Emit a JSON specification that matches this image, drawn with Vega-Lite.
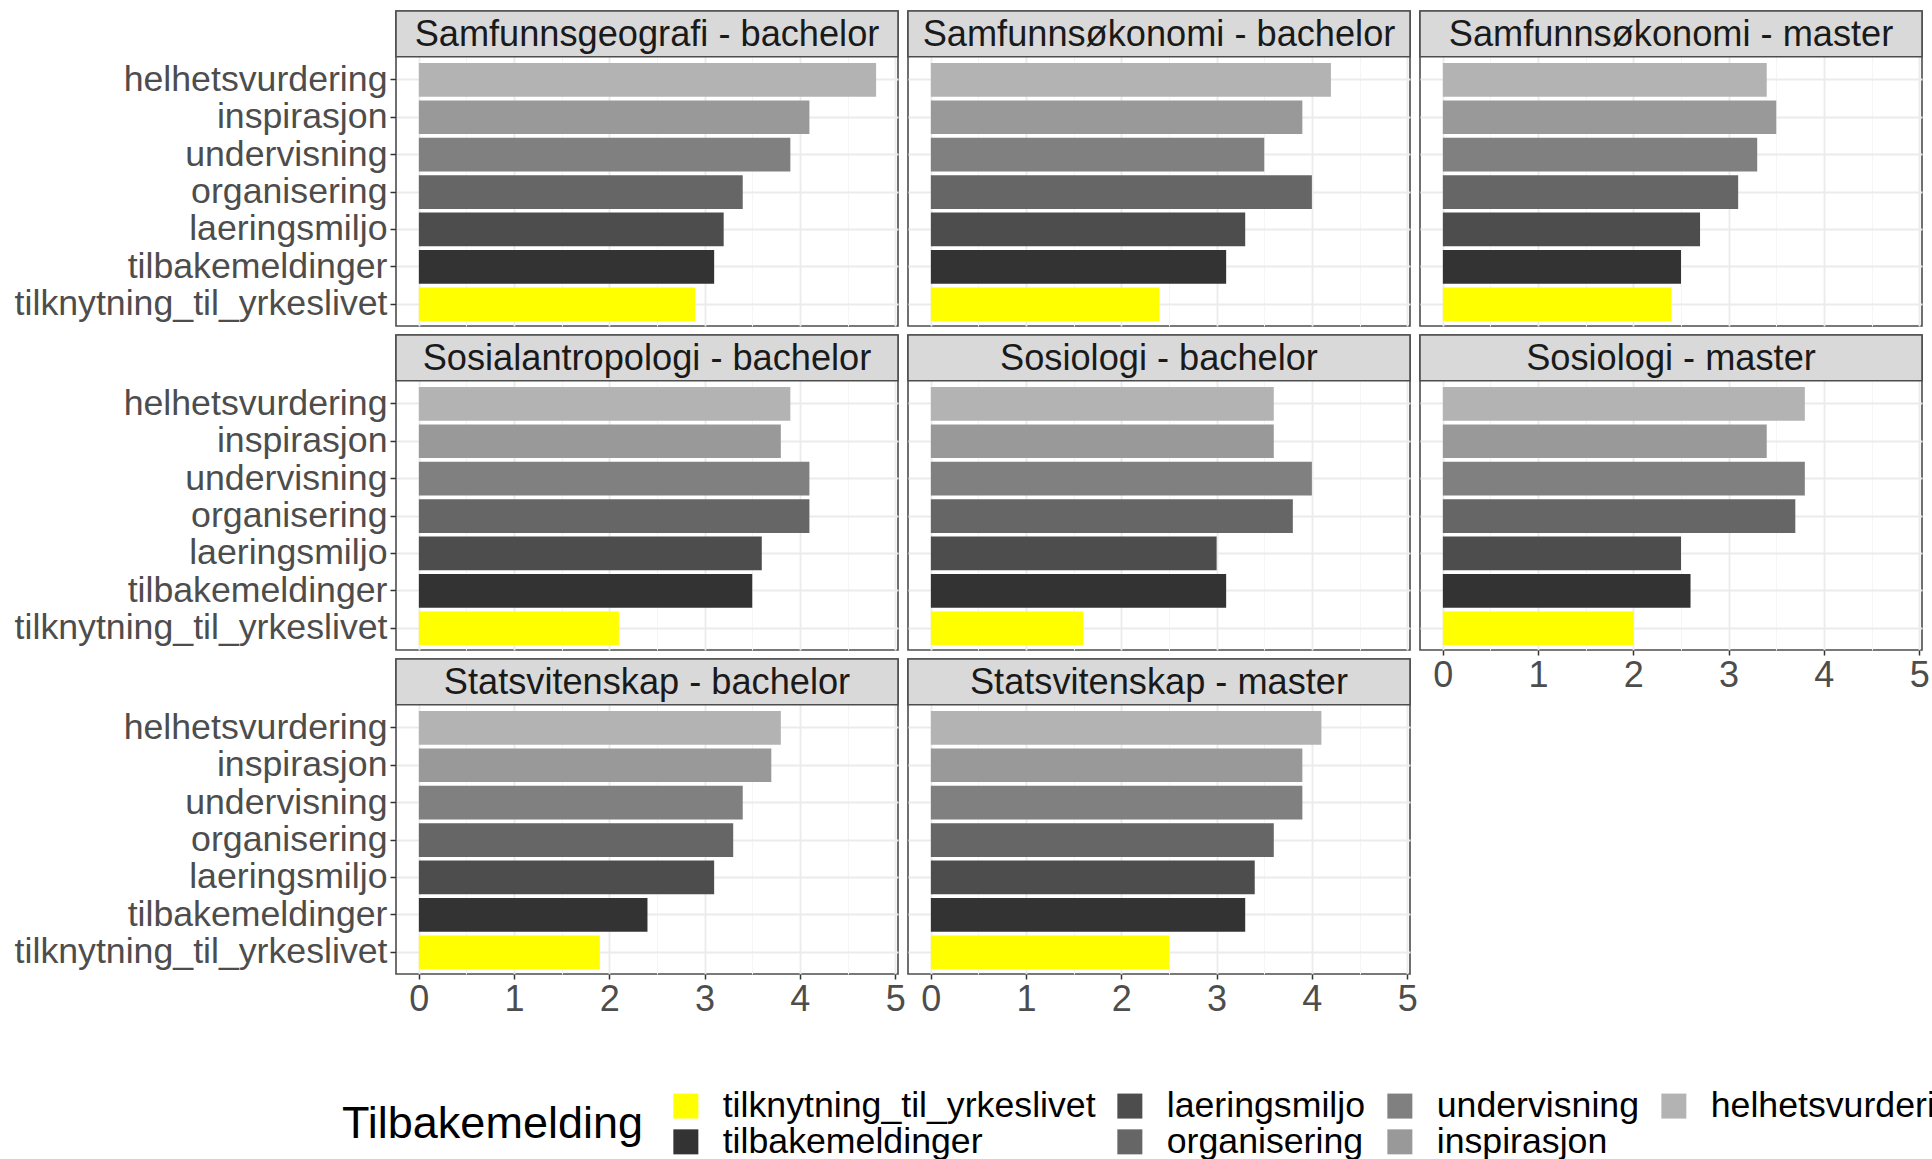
{
  "$schema": "https://vega.github.io/schema/vega-lite/v6.json",
  "background": "white",
  "padding": {"left": 13, "top": 9, "right": 0, "bottom": 0},
  "config": {
    "font": "Liberation Sans",
    "view": {"stroke": "#4D4D4D", "strokeWidth": 1.6},
    "axisX": {"labelFontSize": 36, "labelColor": "#4D4D4D", "labelFlush": false, "labelOverlap": false, "labelPadding": 3, "tickSize": 5, "tickWidth": 1.5, "domain": false, "grid": true},
    "axisY": {"labelFontSize": 35.7, "labelColor": "#4D4D4D", "labelPadding": 3, "labelLimit": 0, "tickSize": 6, "tickWidth": 1.5, "tickColor": "#333333", "domain": false, "grid": true, "gridColor": "#EBEBEB", "gridWidth": 1.8, "bandPosition": 0.5},
    "legend": {"orient": "none", "legendX": -54, "legendY": 1077, "direction": "horizontal", "columns": 4, "titleOrient": "left", "titleFontSize": 45, "titleFontWeight": "normal", "titleColor": "#000000", "titleLimit": 1000, "titleAnchor": "middle", "titleBaseline": "middle", "titlePadding": 25, "labelFontSize": 35.7, "labelColor": "#000000", "labelLimit": 0, "labelOffset": 19, "symbolType": "square", "symbolSize": 625, "symbolStrokeWidth": 0, "symbolOpacity": 1, "columnPadding": 16, "rowPadding": -2},
    "text": {"fontSize": 36.2, "color": "#1A1A1A", "baseline": "alphabetic", "align": "center"},
    "rect": {"fill": "#D9D9D9", "stroke": "#4D4D4D", "strokeWidth": 1.6}
  },
  "datasets": {
    "d": [
      {"program": "Samfunnsgeografi - bachelor", "tilbakemelding": "helhetsvurdering", "verdi": 4.8},
      {"program": "Samfunnsgeografi - bachelor", "tilbakemelding": "inspirasjon", "verdi": 4.1},
      {"program": "Samfunnsgeografi - bachelor", "tilbakemelding": "undervisning", "verdi": 3.9},
      {"program": "Samfunnsgeografi - bachelor", "tilbakemelding": "organisering", "verdi": 3.4},
      {"program": "Samfunnsgeografi - bachelor", "tilbakemelding": "laeringsmiljo", "verdi": 3.2},
      {"program": "Samfunnsgeografi - bachelor", "tilbakemelding": "tilbakemeldinger", "verdi": 3.1},
      {"program": "Samfunnsgeografi - bachelor", "tilbakemelding": "tilknytning_til_yrkeslivet", "verdi": 2.9},
      {"program": "Samfunnsøkonomi - bachelor", "tilbakemelding": "helhetsvurdering", "verdi": 4.2},
      {"program": "Samfunnsøkonomi - bachelor", "tilbakemelding": "inspirasjon", "verdi": 3.9},
      {"program": "Samfunnsøkonomi - bachelor", "tilbakemelding": "undervisning", "verdi": 3.5},
      {"program": "Samfunnsøkonomi - bachelor", "tilbakemelding": "organisering", "verdi": 4.0},
      {"program": "Samfunnsøkonomi - bachelor", "tilbakemelding": "laeringsmiljo", "verdi": 3.3},
      {"program": "Samfunnsøkonomi - bachelor", "tilbakemelding": "tilbakemeldinger", "verdi": 3.1},
      {"program": "Samfunnsøkonomi - bachelor", "tilbakemelding": "tilknytning_til_yrkeslivet", "verdi": 2.4},
      {"program": "Samfunnsøkonomi - master", "tilbakemelding": "helhetsvurdering", "verdi": 3.4},
      {"program": "Samfunnsøkonomi - master", "tilbakemelding": "inspirasjon", "verdi": 3.5},
      {"program": "Samfunnsøkonomi - master", "tilbakemelding": "undervisning", "verdi": 3.3},
      {"program": "Samfunnsøkonomi - master", "tilbakemelding": "organisering", "verdi": 3.1},
      {"program": "Samfunnsøkonomi - master", "tilbakemelding": "laeringsmiljo", "verdi": 2.7},
      {"program": "Samfunnsøkonomi - master", "tilbakemelding": "tilbakemeldinger", "verdi": 2.5},
      {"program": "Samfunnsøkonomi - master", "tilbakemelding": "tilknytning_til_yrkeslivet", "verdi": 2.4},
      {"program": "Sosialantropologi - bachelor", "tilbakemelding": "helhetsvurdering", "verdi": 3.9},
      {"program": "Sosialantropologi - bachelor", "tilbakemelding": "inspirasjon", "verdi": 3.8},
      {"program": "Sosialantropologi - bachelor", "tilbakemelding": "undervisning", "verdi": 4.1},
      {"program": "Sosialantropologi - bachelor", "tilbakemelding": "organisering", "verdi": 4.1},
      {"program": "Sosialantropologi - bachelor", "tilbakemelding": "laeringsmiljo", "verdi": 3.6},
      {"program": "Sosialantropologi - bachelor", "tilbakemelding": "tilbakemeldinger", "verdi": 3.5},
      {"program": "Sosialantropologi - bachelor", "tilbakemelding": "tilknytning_til_yrkeslivet", "verdi": 2.1},
      {"program": "Sosiologi - bachelor", "tilbakemelding": "helhetsvurdering", "verdi": 3.6},
      {"program": "Sosiologi - bachelor", "tilbakemelding": "inspirasjon", "verdi": 3.6},
      {"program": "Sosiologi - bachelor", "tilbakemelding": "undervisning", "verdi": 4.0},
      {"program": "Sosiologi - bachelor", "tilbakemelding": "organisering", "verdi": 3.8},
      {"program": "Sosiologi - bachelor", "tilbakemelding": "laeringsmiljo", "verdi": 3.0},
      {"program": "Sosiologi - bachelor", "tilbakemelding": "tilbakemeldinger", "verdi": 3.1},
      {"program": "Sosiologi - bachelor", "tilbakemelding": "tilknytning_til_yrkeslivet", "verdi": 1.6},
      {"program": "Sosiologi - master", "tilbakemelding": "helhetsvurdering", "verdi": 3.8},
      {"program": "Sosiologi - master", "tilbakemelding": "inspirasjon", "verdi": 3.4},
      {"program": "Sosiologi - master", "tilbakemelding": "undervisning", "verdi": 3.8},
      {"program": "Sosiologi - master", "tilbakemelding": "organisering", "verdi": 3.7},
      {"program": "Sosiologi - master", "tilbakemelding": "laeringsmiljo", "verdi": 2.5},
      {"program": "Sosiologi - master", "tilbakemelding": "tilbakemeldinger", "verdi": 2.6},
      {"program": "Sosiologi - master", "tilbakemelding": "tilknytning_til_yrkeslivet", "verdi": 2.0},
      {"program": "Statsvitenskap - bachelor", "tilbakemelding": "helhetsvurdering", "verdi": 3.8},
      {"program": "Statsvitenskap - bachelor", "tilbakemelding": "inspirasjon", "verdi": 3.7},
      {"program": "Statsvitenskap - bachelor", "tilbakemelding": "undervisning", "verdi": 3.4},
      {"program": "Statsvitenskap - bachelor", "tilbakemelding": "organisering", "verdi": 3.3},
      {"program": "Statsvitenskap - bachelor", "tilbakemelding": "laeringsmiljo", "verdi": 3.1},
      {"program": "Statsvitenskap - bachelor", "tilbakemelding": "tilbakemeldinger", "verdi": 2.4},
      {"program": "Statsvitenskap - bachelor", "tilbakemelding": "tilknytning_til_yrkeslivet", "verdi": 1.9},
      {"program": "Statsvitenskap - master", "tilbakemelding": "helhetsvurdering", "verdi": 4.1},
      {"program": "Statsvitenskap - master", "tilbakemelding": "inspirasjon", "verdi": 3.9},
      {"program": "Statsvitenskap - master", "tilbakemelding": "undervisning", "verdi": 3.9},
      {"program": "Statsvitenskap - master", "tilbakemelding": "organisering", "verdi": 3.6},
      {"program": "Statsvitenskap - master", "tilbakemelding": "laeringsmiljo", "verdi": 3.4},
      {"program": "Statsvitenskap - master", "tilbakemelding": "tilbakemeldinger", "verdi": 3.3},
      {"program": "Statsvitenskap - master", "tilbakemelding": "tilknytning_til_yrkeslivet", "verdi": 2.5}
    ]
  },
  "bounds": "flush",
  "columns": 3,
  "spacing": {"row": 9, "column": 10},
  "concat": [
    {
      "data": {"name": "d"}, "transform": [{"filter": {"field": "program", "equal": "Samfunnsgeografi - bachelor"}}],
      "width": 502, "height": 315, "resolve": {"scale": {"y": "independent"}},
      "layer": [
        {"mark": {"type": "bar"}, "encoding": {
          "x": {"field": "verdi", "type": "quantitative", "scale": {"domain": [-0.24, 5.03], "nice": false, "zero": false}, "axis": {"title": null, "values": [0, 0.5, 1, 1.5, 2, 2.5, 3, 3.5, 4, 4.5, 5], "labels": false, "ticks": false, "gridColor": {"condition": {"test": "datum.value % 1 === 0", "value": "#EBEBEB"}, "value": "#F5F5F5"}, "gridWidth": {"condition": {"test": "datum.value % 1 === 0", "value": 1.8}, "value": 1}}},
          "y": {"field": "tilbakemelding", "type": "nominal", "sort": ["helhetsvurdering", "inspirasjon", "undervisning", "organisering", "laeringsmiljo", "tilbakemeldinger", "tilknytning_til_yrkeslivet"], "scale": {"paddingInner": 0.1, "paddingOuter": 0.76, "align": 0.914}, "axis": {"title": null}},
          "color": {"field": "tilbakemelding", "type": "nominal", "title": "Tilbakemelding", "scale": {"domain": ["tilknytning_til_yrkeslivet", "laeringsmiljo", "undervisning", "helhetsvurdering", "tilbakemeldinger", "organisering", "inspirasjon"], "range": ["#FFFF00", "#4D4D4D", "#808080", "#B3B3B3", "#333333", "#666666", "#999999"]}}
        }},
        {"transform": [{"aggregate": [{"op": "count", "as": "n"}], "groupby": ["program"]}], "mark": {"type": "rect"}, "encoding": {"x": {"datum": -0.24, "type": "quantitative"}, "x2": {"datum": 5.03}, "y": {"datum": 1, "type": "quantitative", "scale": {"domain": [0, 1], "nice": false, "zero": false}, "axis": null}, "y2": {"datum": 0.855}}},
        {"transform": [{"aggregate": [{"op": "count", "as": "n"}], "groupby": ["program"]}], "mark": {"type": "text"}, "encoding": {"x": {"datum": 2.395, "type": "quantitative"}, "y": {"datum": 0.889, "type": "quantitative", "scale": {"domain": [0, 1], "nice": false, "zero": false}, "axis": null}, "text": {"field": "program"}}}
      ]
    },
    {
      "data": {"name": "d"}, "transform": [{"filter": {"field": "program", "equal": "Samfunnsøkonomi - bachelor"}}],
      "width": 502, "height": 315, "resolve": {"scale": {"y": "independent"}},
      "layer": [
        {"mark": {"type": "bar"}, "encoding": {
          "x": {"field": "verdi", "type": "quantitative", "scale": {"domain": [-0.24, 5.03], "nice": false, "zero": false}, "axis": {"title": null, "values": [0, 0.5, 1, 1.5, 2, 2.5, 3, 3.5, 4, 4.5, 5], "labels": false, "ticks": false, "gridColor": {"condition": {"test": "datum.value % 1 === 0", "value": "#EBEBEB"}, "value": "#F5F5F5"}, "gridWidth": {"condition": {"test": "datum.value % 1 === 0", "value": 1.8}, "value": 1}}},
          "y": {"field": "tilbakemelding", "type": "nominal", "sort": ["helhetsvurdering", "inspirasjon", "undervisning", "organisering", "laeringsmiljo", "tilbakemeldinger", "tilknytning_til_yrkeslivet"], "scale": {"paddingInner": 0.1, "paddingOuter": 0.76, "align": 0.914}, "axis": {"title": null, "labels": false, "ticks": false}},
          "color": {"field": "tilbakemelding", "type": "nominal", "title": "Tilbakemelding", "scale": {"domain": ["tilknytning_til_yrkeslivet", "laeringsmiljo", "undervisning", "helhetsvurdering", "tilbakemeldinger", "organisering", "inspirasjon"], "range": ["#FFFF00", "#4D4D4D", "#808080", "#B3B3B3", "#333333", "#666666", "#999999"]}}
        }},
        {"transform": [{"aggregate": [{"op": "count", "as": "n"}], "groupby": ["program"]}], "mark": {"type": "rect"}, "encoding": {"x": {"datum": -0.24, "type": "quantitative"}, "x2": {"datum": 5.03}, "y": {"datum": 1, "type": "quantitative", "scale": {"domain": [0, 1], "nice": false, "zero": false}, "axis": null}, "y2": {"datum": 0.855}}},
        {"transform": [{"aggregate": [{"op": "count", "as": "n"}], "groupby": ["program"]}], "mark": {"type": "text"}, "encoding": {"x": {"datum": 2.395, "type": "quantitative"}, "y": {"datum": 0.889, "type": "quantitative", "scale": {"domain": [0, 1], "nice": false, "zero": false}, "axis": null}, "text": {"field": "program"}}}
      ]
    },
    {
      "data": {"name": "d"}, "transform": [{"filter": {"field": "program", "equal": "Samfunnsøkonomi - master"}}],
      "width": 502, "height": 315, "resolve": {"scale": {"y": "independent"}},
      "layer": [
        {"mark": {"type": "bar"}, "encoding": {
          "x": {"field": "verdi", "type": "quantitative", "scale": {"domain": [-0.24, 5.03], "nice": false, "zero": false}, "axis": {"title": null, "values": [0, 0.5, 1, 1.5, 2, 2.5, 3, 3.5, 4, 4.5, 5], "labels": false, "ticks": false, "gridColor": {"condition": {"test": "datum.value % 1 === 0", "value": "#EBEBEB"}, "value": "#F5F5F5"}, "gridWidth": {"condition": {"test": "datum.value % 1 === 0", "value": 1.8}, "value": 1}}},
          "y": {"field": "tilbakemelding", "type": "nominal", "sort": ["helhetsvurdering", "inspirasjon", "undervisning", "organisering", "laeringsmiljo", "tilbakemeldinger", "tilknytning_til_yrkeslivet"], "scale": {"paddingInner": 0.1, "paddingOuter": 0.76, "align": 0.914}, "axis": {"title": null, "labels": false, "ticks": false}},
          "color": {"field": "tilbakemelding", "type": "nominal", "title": "Tilbakemelding", "scale": {"domain": ["tilknytning_til_yrkeslivet", "laeringsmiljo", "undervisning", "helhetsvurdering", "tilbakemeldinger", "organisering", "inspirasjon"], "range": ["#FFFF00", "#4D4D4D", "#808080", "#B3B3B3", "#333333", "#666666", "#999999"]}}
        }},
        {"transform": [{"aggregate": [{"op": "count", "as": "n"}], "groupby": ["program"]}], "mark": {"type": "rect"}, "encoding": {"x": {"datum": -0.24, "type": "quantitative"}, "x2": {"datum": 5.03}, "y": {"datum": 1, "type": "quantitative", "scale": {"domain": [0, 1], "nice": false, "zero": false}, "axis": null}, "y2": {"datum": 0.855}}},
        {"transform": [{"aggregate": [{"op": "count", "as": "n"}], "groupby": ["program"]}], "mark": {"type": "text"}, "encoding": {"x": {"datum": 2.395, "type": "quantitative"}, "y": {"datum": 0.889, "type": "quantitative", "scale": {"domain": [0, 1], "nice": false, "zero": false}, "axis": null}, "text": {"field": "program"}}}
      ]
    },
    {
      "data": {"name": "d"}, "transform": [{"filter": {"field": "program", "equal": "Sosialantropologi - bachelor"}}],
      "width": 502, "height": 315, "resolve": {"scale": {"y": "independent"}},
      "layer": [
        {"mark": {"type": "bar"}, "encoding": {
          "x": {"field": "verdi", "type": "quantitative", "scale": {"domain": [-0.24, 5.03], "nice": false, "zero": false}, "axis": {"title": null, "values": [0, 0.5, 1, 1.5, 2, 2.5, 3, 3.5, 4, 4.5, 5], "labels": false, "ticks": false, "gridColor": {"condition": {"test": "datum.value % 1 === 0", "value": "#EBEBEB"}, "value": "#F5F5F5"}, "gridWidth": {"condition": {"test": "datum.value % 1 === 0", "value": 1.8}, "value": 1}}},
          "y": {"field": "tilbakemelding", "type": "nominal", "sort": ["helhetsvurdering", "inspirasjon", "undervisning", "organisering", "laeringsmiljo", "tilbakemeldinger", "tilknytning_til_yrkeslivet"], "scale": {"paddingInner": 0.1, "paddingOuter": 0.76, "align": 0.914}, "axis": {"title": null}},
          "color": {"field": "tilbakemelding", "type": "nominal", "title": "Tilbakemelding", "scale": {"domain": ["tilknytning_til_yrkeslivet", "laeringsmiljo", "undervisning", "helhetsvurdering", "tilbakemeldinger", "organisering", "inspirasjon"], "range": ["#FFFF00", "#4D4D4D", "#808080", "#B3B3B3", "#333333", "#666666", "#999999"]}}
        }},
        {"transform": [{"aggregate": [{"op": "count", "as": "n"}], "groupby": ["program"]}], "mark": {"type": "rect"}, "encoding": {"x": {"datum": -0.24, "type": "quantitative"}, "x2": {"datum": 5.03}, "y": {"datum": 1, "type": "quantitative", "scale": {"domain": [0, 1], "nice": false, "zero": false}, "axis": null}, "y2": {"datum": 0.855}}},
        {"transform": [{"aggregate": [{"op": "count", "as": "n"}], "groupby": ["program"]}], "mark": {"type": "text"}, "encoding": {"x": {"datum": 2.395, "type": "quantitative"}, "y": {"datum": 0.889, "type": "quantitative", "scale": {"domain": [0, 1], "nice": false, "zero": false}, "axis": null}, "text": {"field": "program"}}}
      ]
    },
    {
      "data": {"name": "d"}, "transform": [{"filter": {"field": "program", "equal": "Sosiologi - bachelor"}}],
      "width": 502, "height": 315, "resolve": {"scale": {"y": "independent"}},
      "layer": [
        {"mark": {"type": "bar"}, "encoding": {
          "x": {"field": "verdi", "type": "quantitative", "scale": {"domain": [-0.24, 5.03], "nice": false, "zero": false}, "axis": {"title": null, "values": [0, 0.5, 1, 1.5, 2, 2.5, 3, 3.5, 4, 4.5, 5], "labels": false, "ticks": false, "gridColor": {"condition": {"test": "datum.value % 1 === 0", "value": "#EBEBEB"}, "value": "#F5F5F5"}, "gridWidth": {"condition": {"test": "datum.value % 1 === 0", "value": 1.8}, "value": 1}}},
          "y": {"field": "tilbakemelding", "type": "nominal", "sort": ["helhetsvurdering", "inspirasjon", "undervisning", "organisering", "laeringsmiljo", "tilbakemeldinger", "tilknytning_til_yrkeslivet"], "scale": {"paddingInner": 0.1, "paddingOuter": 0.76, "align": 0.914}, "axis": {"title": null, "labels": false, "ticks": false}},
          "color": {"field": "tilbakemelding", "type": "nominal", "title": "Tilbakemelding", "scale": {"domain": ["tilknytning_til_yrkeslivet", "laeringsmiljo", "undervisning", "helhetsvurdering", "tilbakemeldinger", "organisering", "inspirasjon"], "range": ["#FFFF00", "#4D4D4D", "#808080", "#B3B3B3", "#333333", "#666666", "#999999"]}}
        }},
        {"transform": [{"aggregate": [{"op": "count", "as": "n"}], "groupby": ["program"]}], "mark": {"type": "rect"}, "encoding": {"x": {"datum": -0.24, "type": "quantitative"}, "x2": {"datum": 5.03}, "y": {"datum": 1, "type": "quantitative", "scale": {"domain": [0, 1], "nice": false, "zero": false}, "axis": null}, "y2": {"datum": 0.855}}},
        {"transform": [{"aggregate": [{"op": "count", "as": "n"}], "groupby": ["program"]}], "mark": {"type": "text"}, "encoding": {"x": {"datum": 2.395, "type": "quantitative"}, "y": {"datum": 0.889, "type": "quantitative", "scale": {"domain": [0, 1], "nice": false, "zero": false}, "axis": null}, "text": {"field": "program"}}}
      ]
    },
    {
      "data": {"name": "d"}, "transform": [{"filter": {"field": "program", "equal": "Sosiologi - master"}}],
      "width": 502, "height": 315, "resolve": {"scale": {"y": "independent"}},
      "layer": [
        {"mark": {"type": "bar"}, "encoding": {
          "x": {"field": "verdi", "type": "quantitative", "scale": {"domain": [-0.24, 5.03], "nice": false, "zero": false}, "axis": {"title": null, "values": [0, 0.5, 1, 1.5, 2, 2.5, 3, 3.5, 4, 4.5, 5], "labelExpr": "datum.value % 1 === 0 ? '' + datum.value : ''", "tickColor": {"condition": {"test": "datum.value % 1 === 0", "value": "#333333"}, "value": "transparent"}, "gridColor": {"condition": {"test": "datum.value % 1 === 0", "value": "#EBEBEB"}, "value": "#F5F5F5"}, "gridWidth": {"condition": {"test": "datum.value % 1 === 0", "value": 1.8}, "value": 1}}},
          "y": {"field": "tilbakemelding", "type": "nominal", "sort": ["helhetsvurdering", "inspirasjon", "undervisning", "organisering", "laeringsmiljo", "tilbakemeldinger", "tilknytning_til_yrkeslivet"], "scale": {"paddingInner": 0.1, "paddingOuter": 0.76, "align": 0.914}, "axis": {"title": null, "labels": false, "ticks": false}},
          "color": {"field": "tilbakemelding", "type": "nominal", "title": "Tilbakemelding", "scale": {"domain": ["tilknytning_til_yrkeslivet", "laeringsmiljo", "undervisning", "helhetsvurdering", "tilbakemeldinger", "organisering", "inspirasjon"], "range": ["#FFFF00", "#4D4D4D", "#808080", "#B3B3B3", "#333333", "#666666", "#999999"]}}
        }},
        {"transform": [{"aggregate": [{"op": "count", "as": "n"}], "groupby": ["program"]}], "mark": {"type": "rect"}, "encoding": {"x": {"datum": -0.24, "type": "quantitative"}, "x2": {"datum": 5.03}, "y": {"datum": 1, "type": "quantitative", "scale": {"domain": [0, 1], "nice": false, "zero": false}, "axis": null}, "y2": {"datum": 0.855}}},
        {"transform": [{"aggregate": [{"op": "count", "as": "n"}], "groupby": ["program"]}], "mark": {"type": "text"}, "encoding": {"x": {"datum": 2.395, "type": "quantitative"}, "y": {"datum": 0.889, "type": "quantitative", "scale": {"domain": [0, 1], "nice": false, "zero": false}, "axis": null}, "text": {"field": "program"}}}
      ]
    },
    {
      "data": {"name": "d"}, "transform": [{"filter": {"field": "program", "equal": "Statsvitenskap - bachelor"}}],
      "width": 502, "height": 315, "resolve": {"scale": {"y": "independent"}},
      "layer": [
        {"mark": {"type": "bar"}, "encoding": {
          "x": {"field": "verdi", "type": "quantitative", "scale": {"domain": [-0.24, 5.03], "nice": false, "zero": false}, "axis": {"title": null, "values": [0, 0.5, 1, 1.5, 2, 2.5, 3, 3.5, 4, 4.5, 5], "labelExpr": "datum.value % 1 === 0 ? '' + datum.value : ''", "tickColor": {"condition": {"test": "datum.value % 1 === 0", "value": "#333333"}, "value": "transparent"}, "gridColor": {"condition": {"test": "datum.value % 1 === 0", "value": "#EBEBEB"}, "value": "#F5F5F5"}, "gridWidth": {"condition": {"test": "datum.value % 1 === 0", "value": 1.8}, "value": 1}}},
          "y": {"field": "tilbakemelding", "type": "nominal", "sort": ["helhetsvurdering", "inspirasjon", "undervisning", "organisering", "laeringsmiljo", "tilbakemeldinger", "tilknytning_til_yrkeslivet"], "scale": {"paddingInner": 0.1, "paddingOuter": 0.76, "align": 0.914}, "axis": {"title": null}},
          "color": {"field": "tilbakemelding", "type": "nominal", "title": "Tilbakemelding", "scale": {"domain": ["tilknytning_til_yrkeslivet", "laeringsmiljo", "undervisning", "helhetsvurdering", "tilbakemeldinger", "organisering", "inspirasjon"], "range": ["#FFFF00", "#4D4D4D", "#808080", "#B3B3B3", "#333333", "#666666", "#999999"]}}
        }},
        {"transform": [{"aggregate": [{"op": "count", "as": "n"}], "groupby": ["program"]}], "mark": {"type": "rect"}, "encoding": {"x": {"datum": -0.24, "type": "quantitative"}, "x2": {"datum": 5.03}, "y": {"datum": 1, "type": "quantitative", "scale": {"domain": [0, 1], "nice": false, "zero": false}, "axis": null}, "y2": {"datum": 0.855}}},
        {"transform": [{"aggregate": [{"op": "count", "as": "n"}], "groupby": ["program"]}], "mark": {"type": "text"}, "encoding": {"x": {"datum": 2.395, "type": "quantitative"}, "y": {"datum": 0.889, "type": "quantitative", "scale": {"domain": [0, 1], "nice": false, "zero": false}, "axis": null}, "text": {"field": "program"}}}
      ]
    },
    {
      "data": {"name": "d"}, "transform": [{"filter": {"field": "program", "equal": "Statsvitenskap - master"}}],
      "width": 502, "height": 315, "resolve": {"scale": {"y": "independent"}},
      "layer": [
        {"mark": {"type": "bar"}, "encoding": {
          "x": {"field": "verdi", "type": "quantitative", "scale": {"domain": [-0.24, 5.03], "nice": false, "zero": false}, "axis": {"title": null, "values": [0, 0.5, 1, 1.5, 2, 2.5, 3, 3.5, 4, 4.5, 5], "labelExpr": "datum.value % 1 === 0 ? '' + datum.value : ''", "tickColor": {"condition": {"test": "datum.value % 1 === 0", "value": "#333333"}, "value": "transparent"}, "gridColor": {"condition": {"test": "datum.value % 1 === 0", "value": "#EBEBEB"}, "value": "#F5F5F5"}, "gridWidth": {"condition": {"test": "datum.value % 1 === 0", "value": 1.8}, "value": 1}}},
          "y": {"field": "tilbakemelding", "type": "nominal", "sort": ["helhetsvurdering", "inspirasjon", "undervisning", "organisering", "laeringsmiljo", "tilbakemeldinger", "tilknytning_til_yrkeslivet"], "scale": {"paddingInner": 0.1, "paddingOuter": 0.76, "align": 0.914}, "axis": {"title": null, "labels": false, "ticks": false}},
          "color": {"field": "tilbakemelding", "type": "nominal", "title": "Tilbakemelding", "scale": {"domain": ["tilknytning_til_yrkeslivet", "laeringsmiljo", "undervisning", "helhetsvurdering", "tilbakemeldinger", "organisering", "inspirasjon"], "range": ["#FFFF00", "#4D4D4D", "#808080", "#B3B3B3", "#333333", "#666666", "#999999"]}}
        }},
        {"transform": [{"aggregate": [{"op": "count", "as": "n"}], "groupby": ["program"]}], "mark": {"type": "rect"}, "encoding": {"x": {"datum": -0.24, "type": "quantitative"}, "x2": {"datum": 5.03}, "y": {"datum": 1, "type": "quantitative", "scale": {"domain": [0, 1], "nice": false, "zero": false}, "axis": null}, "y2": {"datum": 0.855}}},
        {"transform": [{"aggregate": [{"op": "count", "as": "n"}], "groupby": ["program"]}], "mark": {"type": "text"}, "encoding": {"x": {"datum": 2.395, "type": "quantitative"}, "y": {"datum": 0.889, "type": "quantitative", "scale": {"domain": [0, 1], "nice": false, "zero": false}, "axis": null}, "text": {"field": "program"}}}
      ]
    }
  ]
}
